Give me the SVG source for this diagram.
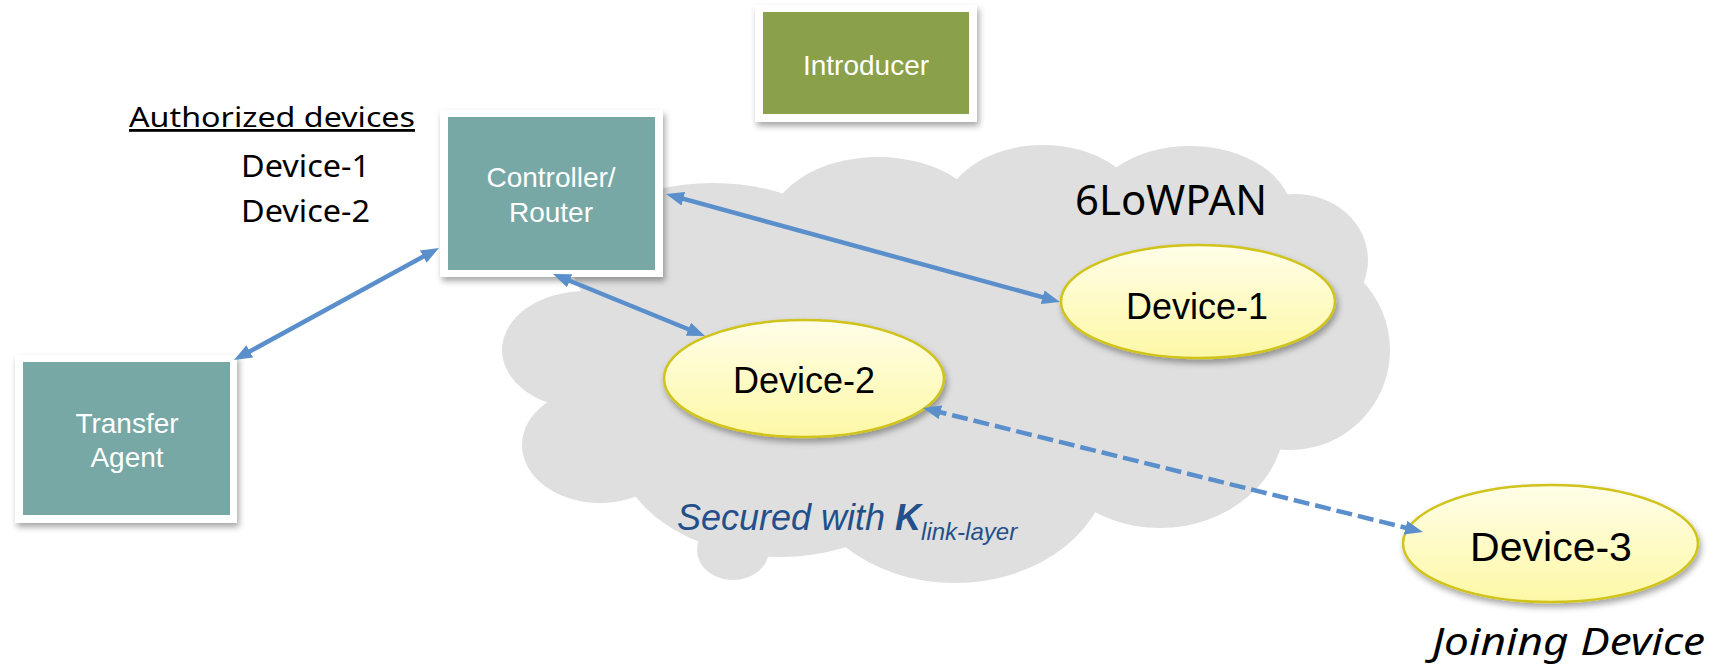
<svg xmlns="http://www.w3.org/2000/svg" width="1717" height="664" viewBox="0 0 1717 664">
<style>
.frame{fill:#ffffff;filter:url(#shadow)}
.teal{fill:#77a8a5}
.green{fill:#8aa04b}
.wlabel{font-family:"Liberation Sans",Arial,sans-serif;font-size:28px;fill:#ffffff;text-anchor:middle}
.dev{fill:url(#ygrad);stroke:#cfc31a;stroke-width:2.5;filter:url(#shadow)}
.dlabel{font-family:"Liberation Sans",Arial,sans-serif;fill:#000000;text-anchor:middle}
.cal{font-family:"Noto Sans","Open Sans",sans-serif;fill:#000000}
.conn{fill:none;stroke:#5a8fcb;stroke-width:4.5}
.cloud{fill:#dfdfdf}
</style>
<defs>
<filter id="shadow" x="-20%" y="-20%" width="140%" height="150%">
<feDropShadow dx="2" dy="4" stdDeviation="3" flood-color="#000000" flood-opacity="0.35"/>
</filter>
<linearGradient id="ygrad" x1="0" y1="0" x2="0" y2="1">
<stop offset="0" stop-color="#fffee8"/>
<stop offset="1" stop-color="#fdf8a6"/>
</linearGradient>
<marker id="arr" viewBox="0 0 18 14" markerWidth="18" markerHeight="14" refX="10" refY="7" orient="auto-start-reverse" markerUnits="userSpaceOnUse">
<path d="M0,0 L18,7 L0,14 z" fill="#5a8fcb"/>
</marker>
</defs>

<g id="cloud" class="cloud">
<polygon points="585,350 600,445 780,440 955,460 1160,420 1290,350 1295,260 1190,215 1043,215 878,230 713,263"/>
<ellipse cx="585" cy="350" rx="83" ry="59"/>
<ellipse cx="600" cy="445" rx="78" ry="58"/>
<ellipse cx="780" cy="440" rx="165" ry="117"/>
<ellipse cx="733" cy="550" rx="36" ry="30"/>
<ellipse cx="955" cy="460" rx="155" ry="123"/>
<ellipse cx="1160" cy="420" rx="125" ry="108"/>
<ellipse cx="1290" cy="350" rx="100" ry="100"/>
<ellipse cx="1295" cy="260" rx="73" ry="66"/>
<ellipse cx="1190" cy="215" rx="102" ry="69"/>
<ellipse cx="1043" cy="215" rx="100" ry="70"/>
<ellipse cx="878" cy="230" rx="110" ry="73"/>
<ellipse cx="713" cy="263" rx="141" ry="80"/>
</g>

<text class="cal" x="1075" y="215" font-size="42" textLength="192" lengthAdjust="spacingAndGlyphs">6LoWPAN</text>
<text x="677" y="530" font-family="'Liberation Sans',Arial,sans-serif" font-style="italic" font-size="36" fill="#23508a">Secured with <tspan font-weight="bold">K</tspan><tspan font-size="24" dy="10">link-layer</tspan></text>

<g id="authorized">
<text class="cal" x="129" y="127" font-size="28" textLength="286" lengthAdjust="spacingAndGlyphs" text-decoration="underline">Authorized devices</text>
<text class="cal" x="241" y="177" font-size="30" textLength="129" lengthAdjust="spacingAndGlyphs">Device-1</text>
<text class="cal" x="241" y="222" font-size="30" textLength="129" lengthAdjust="spacingAndGlyphs">Device-2</text>
</g>

<g id="introducer">
<rect class="frame" x="755" y="5" width="222" height="117"/>
<rect class="green" x="763" y="12" width="206" height="102"/>
<text class="wlabel" x="866" y="75">Introducer</text>
</g>

<g id="controller">
<rect class="frame" x="440" y="110" width="223" height="167"/>
<rect class="teal" x="448" y="117" width="207" height="153"/>
<text class="wlabel" x="551" y="187">Controller/</text>
<text class="wlabel" x="551" y="222">Router</text>
</g>

<g id="transfer-agent">
<rect class="frame" x="15" y="355" width="222" height="168"/>
<rect class="teal" x="23" y="362" width="207" height="153"/>
<text class="wlabel" x="127" y="433">Transfer</text>
<text class="wlabel" x="127" y="467">Agent</text>
</g>

<g id="device-1">
<ellipse class="dev" cx="1198" cy="301.5" rx="137" ry="56.5"/>
<text class="dlabel" x="1197" y="319" font-size="36">Device-1</text>
</g>

<g id="device-2">
<ellipse class="dev" cx="804" cy="378.5" rx="140" ry="58.5"/>
<text class="dlabel" x="804" y="393" font-size="36">Device-2</text>
</g>

<g id="device-3">
<ellipse class="dev" cx="1550.5" cy="543.5" rx="147.5" ry="58.5"/>
<text class="dlabel" x="1551" y="561" font-size="41">Device-3</text>
<text class="cal" x="1432" y="655" font-size="39" font-style="italic" textLength="273" lengthAdjust="spacingAndGlyphs">Joining Device</text>
</g>

<g id="connectors">
<path class="conn" d="M673.7,196.1 L1052.3,299.9" marker-start="url(#arr)" marker-end="url(#arr)"/>
<path class="conn" d="M560.4,277 L697.6,333" marker-start="url(#arr)" marker-end="url(#arr)"/>
<path class="conn" d="M432,251.8 L241,356.2" marker-start="url(#arr)" marker-end="url(#arr)"/>
<path class="conn" d="M930.8,409.9 L1415.2,530.1" stroke-dasharray="16 6" stroke-width="5" marker-start="url(#arr)" marker-end="url(#arr)"/>
</g>
</svg>
